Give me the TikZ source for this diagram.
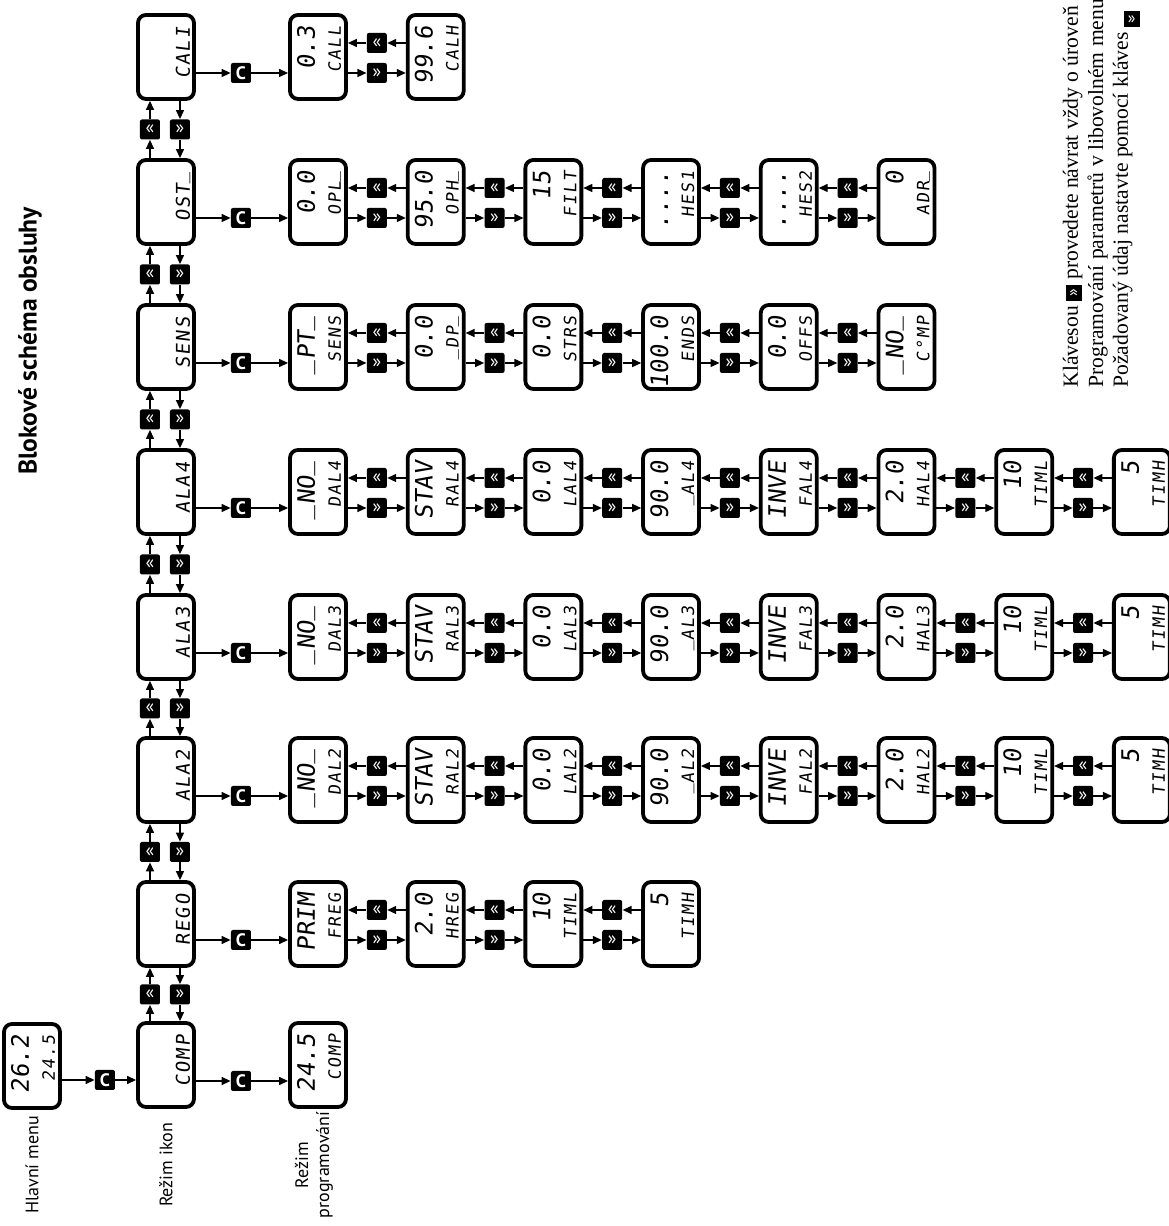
\documentclass[tikz,border=0pt]{standalone}
\usepackage{fontspec}
\setmainfont{Liberation Serif}
\setsansfont{PT Sans}
\newfontfamily\segbig[FakeSlant=0.12]{DejaVu Sans Mono}
\newfontfamily\segsmall[FakeSlant=0.12,LetterSpace=10]{DejaVu Sans Mono}
\usetikzlibrary{arrows.meta,calc}

\tikzset{
  lcd/.style={draw, line width=1.9pt, rounded corners=4pt,
    minimum width=42pt, minimum height=28pt, inner sep=0pt},
  valtext/.style={anchor=base east, inner sep=0pt,
    font=\segbig\fontsize{12}{12}\selectfont},
  nametext/.style={anchor=base east, inner sep=0pt,
    font=\segsmall\fontsize{8.5}{8.5}\selectfont},
  keybox/.style={fill=black, text=white, rounded corners=1pt,
    minimum size=10pt, inner sep=0pt, rotate=-90,
    font=\sffamily\small},
  link/.style={line width=0.65pt, -{Triangle[length=4.5pt,width=4pt]}},
  caption/.style={font=\sffamily\fontsize{9}{10.5}\selectfont, align=center},
}

% bottom segment of the display
\newcommand{\us}{\raisebox{0.22em}{\_}}
% display box: name, position, value, parameter
\newcommand{\lcdbox}[4]{%
  \node[lcd] (#1) at (#2) {};
  \node[valtext] (#1-v) at ($(#1.center)+(31,3)$) {#3};
  \node[nametext] (#1-n) at ($(#1.center)+(31,-23)$) {#4};
}
% icon box of the main row
\newcommand{\menubox}[3]{%
  \node[lcd] (#1) at (#2) {};
  \node[nametext, font=\segsmall\fontsize{9.5}{9.5}\selectfont] (#1-n)
    at ($(#1.center)+(30,-24)$) {#3};
}
% C key and the parameters below one icon
\newcommand{\subrow}[3]{%
  \node[keybox] (#1-c) at (#2-16,927) {\textbf{C}};
  \draw[link] (#1.south -| #1-c) -- (#1-c);
  \foreach \val/\prm [count=\idx] in {#3} {
    \pgfmathsetmacro\yy{850-117.7*(\idx-1)}
    \lcdbox{#1-\idx}{#2,\yy}{\val}{\prm}
    \ifnum\idx>1
      \pgfmathtruncatemacro\prevbox{\idx-1}
      \pgfmathsetmacro\ym{\yy+58.85}
      \node[keybox] (#1-f\idx) at (#2-16,\ym) {»};
      \node[keybox] (#1-b\idx) at (#2+14,\ym) {«};
      \draw[link] (#1-\prevbox.south -| #1-f\idx) -- (#1-f\idx);
      \draw[link] (#1-f\idx) -- (#1-\idx.north -| #1-f\idx);
      \draw[link] (#1-\idx.north -| #1-b\idx) -- (#1-b\idx);
      \draw[link] (#1-b\idx) -- (#1-\prevbox.south -| #1-b\idx);
    \fi
  }
  \draw[link] (#1-c) -- (#1-1.north -| #1-c);
}
\newcommand{\keyin}[1]{{\fboxsep=2pt\colorbox{black}{\textcolor{white}{\sffamily\footnotesize #1}}}}

\begin{document}
\begin{tikzpicture}[x=0.5pt, y=0.5pt, rotate=90, transform shape]
\useasboundingbox (0,0) rectangle (1226,1168);

% Title and captions
\node[font=\sffamily\bfseries\fontsize{12.8}{14}\selectfont] (title) at (885,1138) {Blokové schéma obsluhy};
\node[caption] (cap-hm) at (61,1136) {Hlavní menu};
\node[caption] (cap-icon) at (61,1002) {Režim ikon};
\node[caption] (cap-prog) at (61,854) {Režim\\programování};

% Main menu
\lcdbox{hm}{160,1136}{26.2}{24.5}
\node[keybox] (hm-c) at (146,1063) {\textbf{C}};
\draw[link] (hm.south -| hm-c) -- (hm-c);

% Icon row
\menubox{comp}{161,1002}{COMP}
\menubox{rego}{302,1002}{REGO}
\menubox{ala2}{446,1002}{ALA2}
\menubox{ala3}{589,1002}{ALA3}
\menubox{ala4}{734,1002}{ALA4}
\menubox{sens}{879,1002}{SENS}
\menubox{ost}{1024,1002}{OST\us}
\menubox{cali}{1169,1002}{CALI}
\draw[link] (hm-c) -- (comp.north -| hm-c);

\foreach \ma/\mb/\mx in {comp/rego/231.5, rego/ala2/374, ala2/ala3/517.5,
    ala3/ala4/661.5, ala4/sens/806.5, sens/ost/951.5, ost/cali/1096.5} {
  \node[keybox] (\ma-l) at (\mx,1018) {«};
  \node[keybox] (\ma-r) at (\mx,988) {»};
  \draw[link] (\ma.east |- \ma-l) -- (\ma-l);
  \draw[link] (\ma-l) -- (\mb.west |- \ma-l);
  \draw[link] (\mb.west |- \ma-r) -- (\ma-r);
  \draw[link] (\ma-r) -- (\ma.east |- \ma-r);
}

% Programming mode
\subrow{comp}{161}{24.5/COMP}
\subrow{rego}{302}{PRIM/FREG, 2.0/HREG, 10/TIML, 5/TIMH}
\subrow{ala2}{446}{\us NO\us/DAL2, STAV/RAL2, 0.0/LAL2, 90.0/\us AL2, INVE/FAL2, 2.0/HAL2, 10/TIML, 5/TIMH}
\subrow{ala3}{589}{\us NO\us/DAL3, STAV/RAL3, 0.0/LAL3, 90.0/\us AL3, INVE/FAL3, 2.0/HAL3, 10/TIML, 5/TIMH}
\subrow{ala4}{734}{\us NO\us/DAL4, STAV/RAL4, 0.0/LAL4, 90.0/\us AL4, INVE/FAL4, 2.0/HAL4, 10/TIML, 5/TIMH}
\subrow{sens}{879}{\us PT\us/SENS, 0.0/\us DP\us, 0.0/STRS, 100.0/ENDS, 0.0/OFFS, \us NO\us/C°MP}
\subrow{ost}{1024}{0.0/OPL\us, 95.0/OPH\us, 15/FILT, {....}/HES1, {....}/HES2, 0/ADR\us}
\subrow{cali}{1169}{0.3/CALL, 99.6/CALH}

% Note
\node[anchor=base west, align=left, inner sep=0pt, font=\fontsize{10.8}{12.5}\selectfont] (note) at (838,40)
  {Klávesou \keyin{»} provedete návrat vždy o úroveň\\
   Programování parametrů v libovolném menu\\
   Požadovaný údaj nastavte pomocí kláves \keyin{\rotatebox{-90}{»}}};

\end{tikzpicture}
\end{document}
